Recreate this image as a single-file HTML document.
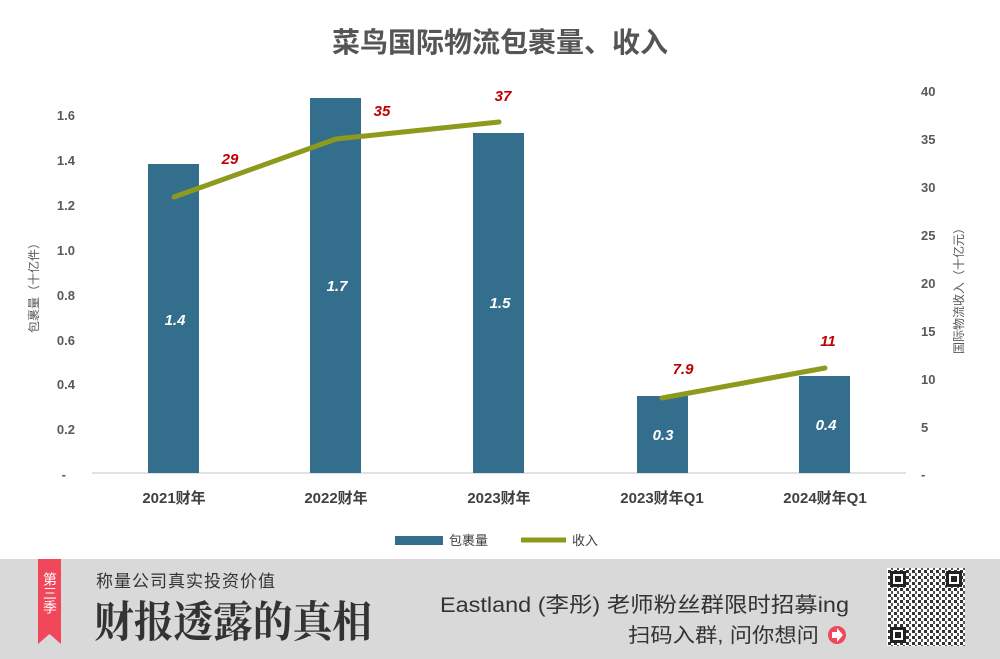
<!DOCTYPE html>
<html><head><meta charset="utf-8"><style>
body{margin:0;width:1000px;height:659px;overflow:hidden;background:#fff;font-family:"Liberation Sans","Noto Sans CJK SC",sans-serif}
</style></head><body>
<svg width="1000" height="659" viewBox="0 0 1000 659" xmlns="http://www.w3.org/2000/svg" style="position:absolute;left:0;top:0">
<style>text{font-family:"Liberation Sans","Noto Sans CJK SC",sans-serif}</style>
<defs>
<pattern id="qr" width="6" height="6" patternUnits="userSpaceOnUse">
<rect width="6" height="6" fill="#fff"/><rect x="0" y="0" width="3" height="3" fill="#333"/><rect x="3" y="3" width="2" height="3" fill="#555"/>
</pattern>
</defs>
<text x="500" y="52" text-anchor="middle" font-size="28" font-weight="bold" fill="#555">菜鸟国际物流包裹量、收入</text>
<g font-size="13" fill="#595959" font-weight="bold">
<text x="75" y="120" text-anchor="end">1.6</text>
<text x="75" y="165" text-anchor="end">1.4</text>
<text x="75" y="210" text-anchor="end">1.2</text>
<text x="75" y="255" text-anchor="end">1.0</text>
<text x="75" y="300" text-anchor="end">0.8</text>
<text x="75" y="345" text-anchor="end">0.6</text>
<text x="75" y="389" text-anchor="end">0.4</text>
<text x="75" y="434" text-anchor="end">0.2</text>
<text x="66" y="479" text-anchor="end">-</text>
<text x="921" y="96">40</text><text x="921" y="144">35</text><text x="921" y="192">30</text>
<text x="921" y="240">25</text><text x="921" y="288">20</text><text x="921" y="336">15</text>
<text x="921" y="384">10</text><text x="921" y="432">5</text><text x="921" y="479">-</text>
</g>
<text transform="translate(38,285) rotate(-90)" text-anchor="middle" font-size="12" fill="#595959">包裹量（十亿件）</text>
<text transform="translate(963,288) rotate(-90)" text-anchor="middle" font-size="12" fill="#595959">国际物流收入（十亿元）</text>
<line x1="92" y1="473" x2="906" y2="473" stroke="#d9d9d9" stroke-width="1.5"/>
<g fill="#336f8d">
<rect x="148" y="164" width="51" height="309"/>
<rect x="310" y="98" width="51" height="375"/>
<rect x="473" y="133" width="51" height="340"/>
<rect x="637" y="396" width="51" height="77"/>
<rect x="799" y="376" width="51" height="97"/>
</g>
<g font-size="15" font-style="italic" font-weight="bold" fill="#fff" text-anchor="middle">
<text x="175" y="325">1.4</text><text x="337" y="291">1.7</text><text x="500" y="308">1.5</text>
<text x="663" y="440">0.3</text><text x="826" y="430">0.4</text>
</g>
<polyline points="174,197 336,139 499,122" fill="none" stroke="#8d9a1c" stroke-width="5" stroke-linecap="round"/>
<polyline points="662,398 825,368" fill="none" stroke="#8d9a1c" stroke-width="5" stroke-linecap="round"/>
<g font-size="15" font-style="italic" font-weight="bold" fill="#c00000" text-anchor="middle">
<text x="230" y="164">29</text><text x="382" y="116">35</text><text x="503" y="101">37</text>
<text x="683" y="374">7.9</text><text x="828" y="346">11</text>
</g>
<g font-size="15" fill="#404040" font-weight="bold" text-anchor="middle">
<text x="174" y="503">2021财年</text><text x="336" y="503">2022财年</text><text x="499" y="503">2023财年</text>
<text x="662" y="503">2023财年Q1</text><text x="825" y="503">2024财年Q1</text>
</g>
<rect x="395" y="536" width="48" height="9" fill="#336f8d"/>
<text x="449" y="545" font-size="13" fill="#404040">包裹量</text>
<line x1="521" y1="540" x2="566" y2="540" stroke="#8d9a1c" stroke-width="5"/>
<text x="572" y="545" font-size="13" fill="#404040">收入</text>
<rect x="0" y="559" width="1000" height="100" fill="#d9d9d9"/>
<polygon points="38,559 61,559 61,644 49.5,634 38,644" fill="#f0485a"/>
<text x="50" y="572" font-size="14" fill="#fff" style="writing-mode:vertical-rl">第三季</text>
<text x="96" y="587" font-size="17" fill="#333" letter-spacing="1">称量公司真实投资价值</text>
<text x="94" y="637" font-size="43" font-weight="bold" fill="#333" textLength="278" lengthAdjust="spacingAndGlyphs" style="font-family:'Noto Serif CJK SC',serif">财报透露的真相</text>
<text x="440" y="612" font-size="21" fill="#333" textLength="409" lengthAdjust="spacingAndGlyphs">Eastland (李彤) 老师粉丝群限时招募ing</text>
<text x="628" y="642" font-size="20" fill="#333" textLength="191" lengthAdjust="spacingAndGlyphs">扫码入群, 问你想问</text>
<circle cx="837" cy="635" r="9" fill="#f0485a"/>
<polygon points="832,632 837,632 837,628 843,635 837,642 837,638 832,638" fill="#fff"/>
<rect x="887" y="568" width="78" height="78" fill="url(#qr)"/>
<g fill="#222">
<rect x="890" y="571" width="16" height="16"/><rect x="946" y="571" width="16" height="16"/><rect x="890" y="627" width="16" height="16"/>
</g>
<g fill="#fff"><rect x="893" y="574" width="10" height="10"/><rect x="949" y="574" width="10" height="10"/><rect x="893" y="630" width="10" height="10"/></g>
<g fill="#222"><rect x="895" y="576" width="6" height="6"/><rect x="951" y="576" width="6" height="6"/><rect x="895" y="632" width="6" height="6"/></g>
</svg>
</body></html>
